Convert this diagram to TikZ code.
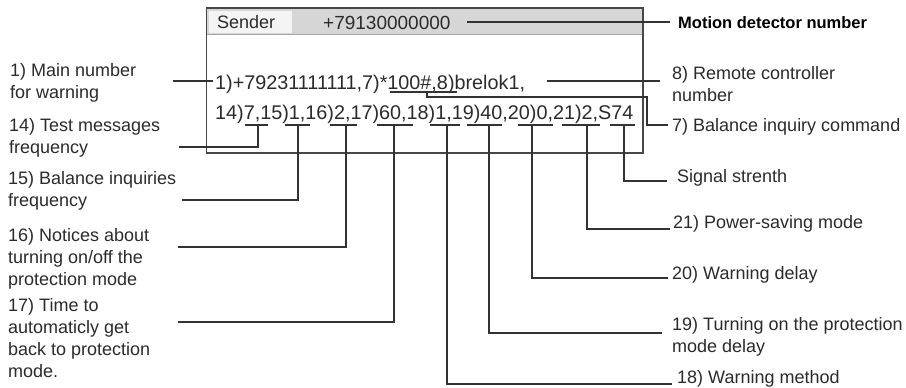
\documentclass[tikz,border=0pt]{standalone}
\usepackage{fontspec}
\setmainfont{Liberation Sans}
\definecolor{ink}{HTML}{2B2B2B}
\definecolor{lineclr}{HTML}{333333}
\definecolor{hdr}{HTML}{D6D6D6}
\definecolor{cell}{HTML}{F4F4F4}
\begin{document}
\begin{tikzpicture}[x=1pt,y=-1pt,
  conn/.style={draw=lineclr, line width=1.2pt},
  frame/.style={draw=black!72, line width=1.4pt},
  msg/.style={inner sep=0pt, anchor=base west, text=ink, font=\fontsize{19.8}{22}\selectfont},
  lbl/.style={inner sep=0pt, anchor=base west, align=left, text=ink, font=\fontsize{18}{22}\selectfont},
]
\useasboundingbox[fill=white] (0,0) rectangle (906,388);

% ---- message window ----
\fill[hdr] (207,9) rectangle (643,35);
\fill[cell] (208.5,10.5) rectangle (292,32.5);
\draw[black!35, line width=1.2pt] (207,34.5) -- (643,34.5);
\draw[frame] (206.5,8) rectangle (643,153);

\node[msg, font=\fontsize{18}{22}\selectfont] (sender) at (217,28.5) {Sender};
\node[msg, font=\fontsize{19}{22}\selectfont] (snum) at (323,29) {+79130000000};
\node[lbl, text=black, font=\bfseries\fontsize{16.5}{20}\selectfont] (lmd) at (678,28) {Motion detector number};

\node[msg] (m1) at (215,89) {1)+79231111111,7)*100\#,8)brelok1,};
\node[msg] (m2) at (215,119) {14)7,15)1,16)2,17)60,18)1,19)40,20)0,21)2,S74};

% ---- labels (base anchor = baseline of the last line) ----
\node[lbl] (l1)  at (10,98.5)   {1) Main number\\for warning};
\node[lbl] (l14) at (9,153.5)   {14) Test messages\\frequency};
\node[lbl] (l15) at (8,206.5)   {15) Balance inquiries\\frequency};
\node[lbl] (l16) at (8,285.5)   {16) Notices about\\turning on/off the\\protection mode};
\node[lbl] (l17) at (8,377)     {17) Time to\\automaticly get\\back to protection\\mode.};
\node[lbl] (l8)  at (672,101.5) {8) Remote controller\\number};
\node[lbl] (l7)  at (672,131.5) {7) Balance inquiry command};
\node[lbl] (lss) at (677,182.5) {Signal strenth};
\node[lbl] (l21) at (673,228.5) {21) Power-saving mode};
\node[lbl] (l20) at (672,279.5) {20) Warning delay};
\node[lbl] (l19) at (672,352.5) {19) Turning on the protection\\mode delay};
\node[lbl] (l18) at (677,383.5) {18) Warning method};

% ---- connector end points ----
\coordinate (s0) at (467,22);  \coordinate (e0) at (670,22);
\coordinate (s1) at (173,81);  \coordinate (e1) at (213,81);
\coordinate (s8) at (547,81);  \coordinate (e8) at (660,81);
\coordinate (u7a) at (390,92); \coordinate (u7b) at (457,92);
\coordinate (t7) at (427,92);  \coordinate (k7) at (647,97); \coordinate (e7) at (668,125);

\coordinate (u14a) at (245,125); \coordinate (u14b) at (268,125); \coordinate (t14) at (258,125); \coordinate (e14) at (179,147);
\coordinate (u15a) at (285,125); \coordinate (u15b) at (310,125); \coordinate (t15) at (298,125); \coordinate (e15) at (182,200);
\coordinate (u16a) at (330,125); \coordinate (u16b) at (357,125); \coordinate (t16) at (346,125); \coordinate (e16) at (178,247);
\coordinate (u17a) at (377,125); \coordinate (u17b) at (413,125); \coordinate (t17) at (394,125); \coordinate (e17) at (178,322);
\coordinate (u18a) at (430,125); \coordinate (u18b) at (460,125); \coordinate (t18) at (447,125); \coordinate (e18) at (672,384);
\coordinate (u19a) at (467,125); \coordinate (u19b) at (502,125); \coordinate (t19) at (489,125); \coordinate (e19) at (662,333);
\coordinate (u20a) at (518,125); \coordinate (u20b) at (553,125); \coordinate (t20) at (532,125); \coordinate (e20) at (668,278);
\coordinate (u21a) at (562,125); \coordinate (u21b) at (600,125); \coordinate (t21) at (587,125); \coordinate (e21) at (670,229);
\coordinate (uSa)  at (610,125); \coordinate (uSb)  at (635,125); \coordinate (tS)  at (624,125); \coordinate (eS)  at (667,181);

% ---- connectors ----
\draw[conn] (s0) -- (e0);
\draw[conn] (s1) -- (e1);
\draw[conn] (s8) -- (e8);
\draw[conn] (u7a) -- (u7b);
\draw[conn] (t7) |- (k7) |- (e7);

\foreach \n in {14,15,16,17,18,19,20,21,S}{
  \draw[conn] (u\n a) -- (u\n b);
  \draw[conn] (t\n) |- (e\n);
}
\end{tikzpicture}
\end{document}
